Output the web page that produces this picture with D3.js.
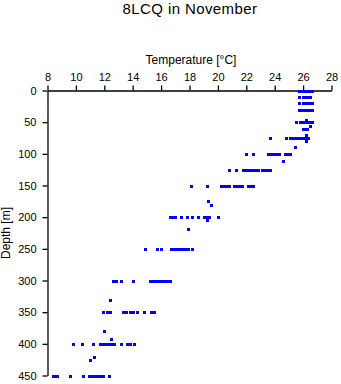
<!DOCTYPE html>
<html>
<head>
<meta charset="utf-8">
<script src="https://cdn.jsdelivr.net/npm/d3@7"></script>
<style>
  html, body { margin: 0; padding: 0; background: #fff; }
  svg { display: block; font-family: "Liberation Sans", Arial, sans-serif; }
</style>
</head>
<body>
<svg id="chart" width="341" height="384"></svg>
<script>
// ---- data ----
const title = "8LCQ in November";
const xLabel = "Temperature [°C]";
const yLabel = "Depth [m]";
const xTicks = [8, 10, 12, 14, 16, 18, 20, 22, 24, 26, 28];
const yTicks = [0, 50, 100, 150, 200, 250, 300, 350, 400, 450];

const depthLevels = [0, 10, 20, 30, 46, 50, 56, 60, 71, 75, 80, 89, 100, 112, 125, 150, 175, 180, 200, 205, 218, 250, 300, 330, 350, 380, 393, 400, 420, 425, 450];
const tempsAtDepth = [
  [25.7, 25.9, 26.0, 26.1, 26.2, 26.3, 26.4, 26.5, 26.6],
  [25.7, 26.0, 26.1, 26.2, 26.3, 26.5],
  [25.7, 26.0, 26.1, 26.2, 26.3, 26.4, 26.6],
  [25.7, 25.8, 25.9, 26.0, 26.1, 26.2, 26.3, 26.4, 26.6],
  [26.2],
  [25.5, 25.8, 26.0, 26.1, 26.2, 26.3, 26.4, 26.6],
  [26.5],
  [26.0, 26.1, 26.2, 26.3],
  [26.2],
  [23.7, 24.8, 25.1, 25.3, 25.5, 25.7, 25.9, 26.0, 26.2, 26.35],
  [26.2],
  [25.4],
  [22.0, 22.5, 23.5, 23.7, 23.9, 24.1, 24.3, 24.7, 24.9, 25.1],
  [24.6],
  [20.8, 21.3, 21.8, 22.0, 22.2, 22.4, 22.6, 22.8, 23.1, 23.3, 23.5, 23.7],
  [18.1, 19.2, 20.2, 20.4, 20.6, 20.8, 21.1, 21.3, 21.5, 21.7, 22.1, 22.3, 22.5],
  [19.3],
  [19.5],
  [16.6, 16.8, 17.0, 17.4, 17.8, 18.2, 18.6, 19.0, 19.2, 19.4, 20.0],
  [19.2],
  [17.9],
  [14.9, 15.7, 16.0, 16.7, 16.9, 17.1, 17.3, 17.5, 17.7, 17.9, 18.2],
  [12.6, 12.8, 13.2, 14.0, 15.2, 15.4, 15.6, 15.8, 16.0, 16.2, 16.4, 16.6],
  [12.4],
  [11.9, 12.2, 12.4, 13.3, 13.5, 13.8, 14.0, 14.3, 14.8, 15.3, 15.5],
  [12.0],
  [12.5],
  [9.8, 10.4, 11.2, 11.7, 11.9, 12.1, 12.3, 12.5, 12.7, 13.2, 13.6, 13.8, 14.1],
  [11.3],
  [11.0],
  [8.4, 8.5, 8.7, 9.6, 10.5, 10.9, 11.1, 11.3, 11.5, 11.7, 11.9, 12.3]
];

// ---- build point table ----
const points = [];
depthLevels.forEach((d, i) => tempsAtDepth[i].forEach(t => points.push({ depth: d, temp: t })));

// ---- layout ----
const svg = d3.select("#chart");
const plotLeft = 47.5, plotRight = 331.5, plotTop = 90.5, plotBottom = 375.5;

const x = d3.scaleLinear().domain([8, 28]).range([plotLeft, plotRight]);
const y = d3.scaleLinear().domain([0, 450]).range([plotTop, plotBottom]);

// title
svg.append("text")
  .attr("x", 190).attr("y", 13.5)
  .attr("text-anchor", "middle")
  .style("font-size", "15px")
  .style("letter-spacing", "0.4px")
  .text(title);

// x axis (top)
const xAxis = svg.append("g")
  .attr("transform", `translate(0,${plotTop})`)
  .call(d3.axisTop(x).tickValues(xTicks).tickSize(5).tickSizeOuter(0).tickPadding(5));
xAxis.selectAll("text").style("font-size", "11px").attr("fill", "#000");

// y axis (left)
const yAxis = svg.append("g")
  .attr("transform", `translate(${plotLeft},0)`)
  .call(d3.axisLeft(y).tickValues(yTicks).tickSize(5).tickSizeOuter(0).tickPadding(6));
yAxis.selectAll("text").style("font-size", "11px").attr("fill", "#000");

[xAxis, yAxis].forEach(g => {
  g.select(".domain").attr("stroke", "#000").attr("stroke-width", 1.3);
  g.selectAll(".tick line").attr("stroke", "#000").attr("stroke-width", 1.3);
  g.attr("font-family", null);
});

// axis labels
svg.append("text")
  .attr("x", 191).attr("y", 64)
  .attr("text-anchor", "middle")
  .style("font-size", "12px")
  .text(xLabel);

svg.append("text")
  .attr("transform", `translate(10,${(plotTop + plotBottom) / 2}) rotate(-90)`)
  .attr("text-anchor", "middle")
  .style("font-size", "12px")
  .text(yLabel);

// points
svg.append("g")
  .selectAll("rect")
  .data(points)
  .join("rect")
  .attr("x", d => Math.round(x(d.temp)) - 1.5)
  .attr("y", d => Math.round(y(d.depth)) - 1.5)
  .attr("width", 3)
  .attr("height", 3)
  .attr("fill", "#0000ff")
  .attr("shape-rendering", "crispEdges");
</script>
</body>
</html>
